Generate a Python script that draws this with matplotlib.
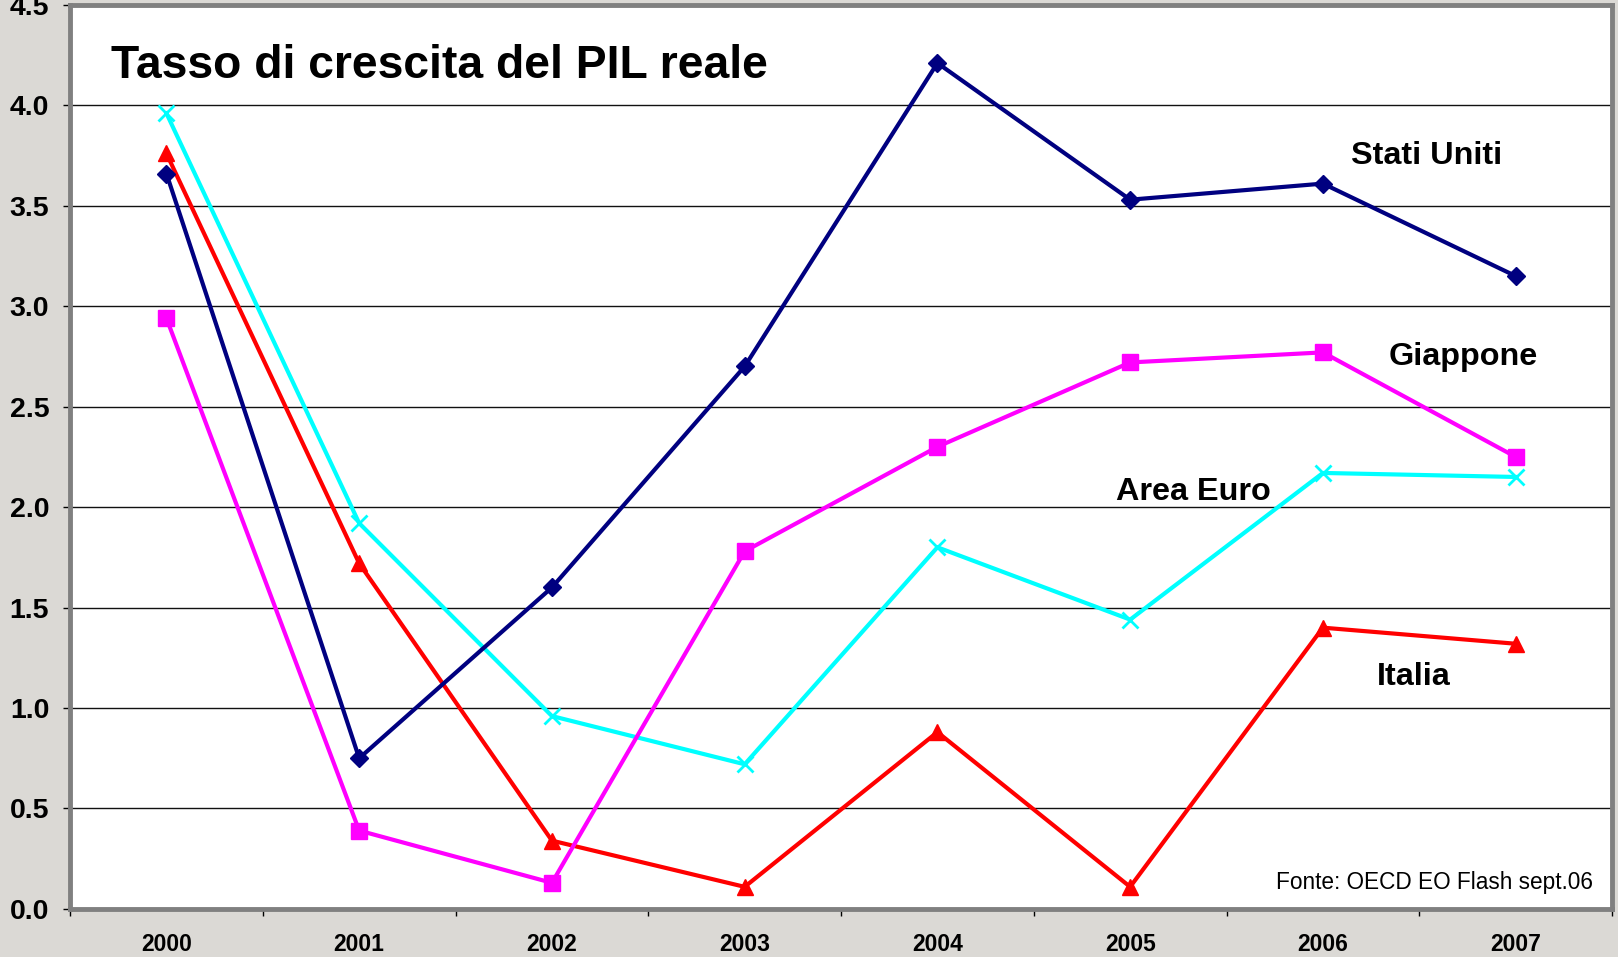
import numpy as np
import matplotlib.pyplot as plt

anni = ['2000', '2001', '2002', '2003', '2004', '2005', '2006', '2007']
stati_uniti = [3.66, 0.75, 1.60, 2.70, 4.21, 3.53, 3.61, 3.15]
giappone = [2.94, 0.39, 0.13, 1.78, 2.30, 2.72, 2.77, 2.25]
area_euro = [3.96, 1.92, 0.96, 0.72, 1.80, 1.44, 2.17, 2.15]
italia = [3.76, 1.72, 0.34, 0.11, 0.88, 0.11, 1.40, 1.32]

plt.rcParams['font.family'] = ['Liberation Sans', 'DejaVu Sans']

fig = plt.figure(figsize=(16.18, 9.57), dpi=100, facecolor='#dbd9d5')
ax = fig.add_axes([0.0433, 0.0502, 0.9530, 0.9448])
ax.set_facecolor('white')

x = np.arange(len(anni))
ax.plot(x, italia, '-^', color='#ff0000', lw=3.0, ms=12, zorder=3)
ax.plot(x, area_euro, '-x', color='#00ffff', lw=3.0, ms=12, mew=2, zorder=3)
ax.plot(x, stati_uniti, '-D', color='#000080', lw=3.0, ms=9, zorder=3)
ax.plot(x, giappone, '-s', color='#ff00ff', lw=3.0, ms=12, zorder=3)

ax.set_xlim(-0.5, 7.5)
ax.set_ylim(0, 4.5)
ax.set_yticks(np.arange(0, 4.51, 0.5))
ax.set_yticklabels(['%.1f' % v for v in np.arange(0, 4.51, 0.5)],
                   fontsize=20.5, fontweight='bold')
ax.yaxis.grid(True, color='#111111', lw=1.0)
ax.set_axisbelow(True)

ax.set_xticks(x)
ax.set_xticklabels(anni, fontsize=16.5, fontweight='bold')
ax.set_xticks(np.arange(-0.5, 7.6, 1), minor=True)
ax.tick_params(axis='x', which='major', length=0, pad=17)
ax.tick_params(axis='x', which='minor', length=5, width=1, color='black')
ax.tick_params(axis='y', length=5, width=1, color='black', pad=10)

for s in ax.spines.values():
    s.set_color('#808080')
    s.set_linewidth(3.5)

ax.text(-0.29, 4.195, 'Tasso di crescita del PIL reale', fontsize=33.3,
        fontweight='bold', ha='left', va='center')
ax.text(6.54, 3.745, 'Stati Uniti', fontsize=23.3, fontweight='bold', ha='center', va='center')
ax.text(6.73, 2.745, 'Giappone', fontsize=23.3, fontweight='bold', ha='center', va='center')
ax.text(5.33, 2.075, 'Area Euro', fontsize=23.3, fontweight='bold', ha='center', va='center')
ax.text(6.47, 1.155, 'Italia', fontsize=23.3, fontweight='bold', ha='center', va='center')
ax.text(7.40, 0.13, 'Fonte: OECD EO Flash sept.06', fontsize=16.3, ha='right', va='center')

plt.savefig('out.png', dpi=100, facecolor=fig.get_facecolor())
